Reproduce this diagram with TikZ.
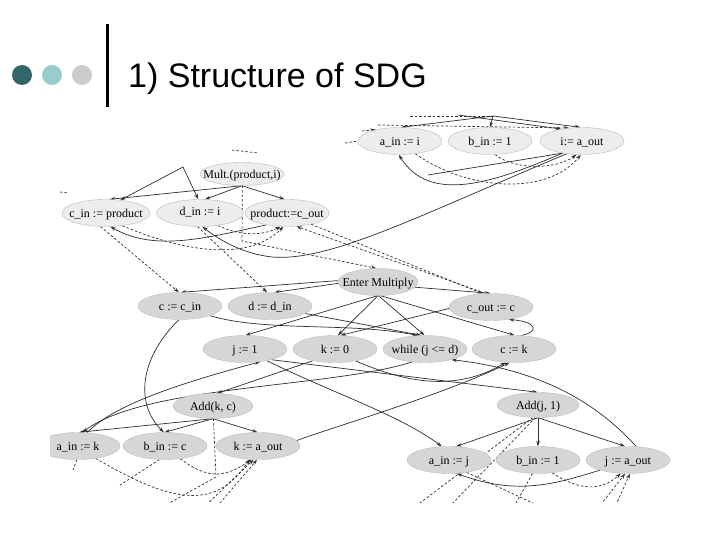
\documentclass[tikz,border=0pt]{standalone}
\usepackage{fontspec}
\setmainfont{Liberation Serif}
\newfontfamily\titlefont{Liberation Sans}
\usetikzlibrary{shapes.geometric,arrows.meta}
\pgfdeclarelayer{bglayer}
\pgfdeclarelayer{edgelayer}
\pgfsetlayers{bglayer,edgelayer,main}
\newcommand{\tx}[1]{\raisebox{0pt}[8.5pt][0pt]{\makebox[0pt]{#1}}}
\definecolor{dotA}{RGB}{51,102,104}
\definecolor{dotB}{RGB}{153,204,204}
\definecolor{dotC}{RGB}{204,204,204}
\begin{document}
\begin{tikzpicture}[x=1pt,y=-1pt,
  gl/.style={ellipse, draw=black!28, fill=black!7, minimum width=84pt, minimum height=27pt, inner sep=0pt, font=\fontsize{12}{14}\selectfont},
  gd/.style={gl, fill=black!16, draw=black!26},
  ce/.style={draw=black!82, line width=0.7pt, -{Stealth[length=5.5pt,width=3.6pt]}},
  de/.style={ce, dash pattern=on 2.5pt off 2pt},
  pl/.style={draw=black!82, line width=0.7pt},
  pd/.style={pl, dash pattern=on 2.5pt off 2pt}]
\begin{pgfonlayer}{bglayer}
\fill[white] (0,0) rectangle (720,540);
\end{pgfonlayer}
\useasboundingbox (0,0) rectangle (720,540);
% title
\fill[dotA] (22,75) circle (10);
\fill[dotB] (52,75) circle (10);
\fill[dotC] (82,75) circle (10);
\fill[black] (105.5,24) rectangle (109,107);
\node[anchor=base west, inner sep=0pt, font=\titlefont\fontsize{34}{38}\selectfont] (title) at (128,88) {1) Structure of SDG};
% nodes
\begin{scope}
\clip (50,112) rectangle (680,502);
\node[gl] (ain1) at (400,141) {\tx{a\_in := i}};
\node[gl] (bin1) at (490,141) {\tx{b\_in := 1}};
\node[gl] (iaout) at (582,141) {\tx{i:= a\_out}};
\node[gl, minimum height=23pt, minimum width=84pt] (mult) at (242,174) {\tx{Mult.(product,i)}};
\node[gl, minimum width=88pt] (cin) at (106,213) {\tx{c\_in := product}};
\node[gl, minimum width=87pt] (din) at (200,213) {\raisebox{3pt}{\tx{d\_in := i}}};
\node[gl] (prod) at (287,213) {\tx{product:=c\_out}};
\node[gd, minimum width=80pt] (em) at (378,282) {\tx{Enter Multiply}};
\node[gd] (cc) at (180,306) {\tx{c := c\_in}};
\node[gd] (dd) at (270,306) {\tx{d := d\_in}};
\node[gd] (cout) at (491,307) {\tx{c\_out := c}};
\node[gd] (j1) at (245,349) {\tx{j := 1}};
\node[gd] (k0) at (335,349) {\tx{k := 0}};
\node[gd] (wh) at (425,349) {\tx{while (j <= d)}};
\node[gd] (ck) at (514,349) {\tx{c := k}};
\node[gd, minimum width=80pt, minimum height=25pt] (addkc) at (213,406) {\tx{Add(k, c)}};
\node[gd] (aink) at (78,446) {\tx{a\_in := k}};
\node[gd] (binc) at (165,446) {\tx{b\_in := c}};
\node[gd] (kaout) at (258,446) {\tx{k := a\_out}};
\node[gd, minimum width=82pt, minimum height=25pt] (addj) at (538,405) {\tx{Add(j, 1)}};
\node[gd] (ainj) at (449,460) {\tx{a\_in := j}};
\node[gd] (binj) at (538,460) {\tx{b\_in := 1}};
\node[gd] (jaout) at (628,460) {\tx{j := a\_out}};
\end{scope}
% edges
\begin{pgfonlayer}{edgelayer}
\begin{scope}
\clip (50,112) rectangle (680,502);
\coordinate (s1) at (493,116);
\coordinate (s1b) at (458,115);
\coordinate (s1c) at (410,116);
\coordinate (s1d) at (378,125);
\coordinate (s1e) at (362,131);
\coordinate (s1f) at (345,143);
\coordinate (s2) at (183,167);
\coordinate (t1) at (428,175);
\coordinate (mc) at (242,241);
% top group
\draw[ce] (s1) -- (ain1.85);
\draw[ce] (s1) -- (bin1.90);
\draw[ce] (s1) -- (iaout.97);
\draw[ce] (s1b) -- (iaout.150);
\draw[pd] (s1c) -- (s1);
\draw[de] (s1d) -- (iaout.135);
\draw[de] (s1e) -- (ain1.155);
\draw[pd] (s1f) -- (ain1.west);
\draw[de] (ain1.-40) .. controls (470,192) and (548,195) .. (iaout.-95);
\draw[de] (bin1.-70) .. controls (515,170) and (555,170) .. (iaout.-112);
\draw[ce] (iaout.-148) .. controls (495,182) and (430,205) .. (ain1.-95);
\draw[pl] (t1) -- (iaout.-148);
\draw[ce] (iaout.-140) .. controls (420,215) and (330,262) .. (272,257) .. controls (245,254) and (222,242) .. (din.-80);
\draw[pd] (232,150) -- (258,153);
% mult group
\draw[ce] (s2) -- (cin.42);
\draw[ce] (s2) -- (din.97);
\draw[ce] (mult.south) -- (cin.75);
\draw[ce] (mult.south) -- (din.70);
\draw[ce] (mult.south) -- (prod.100);
\draw[pd] (60,192) -- (68,193);
\draw[ce] (prod.-150) .. controls (205,238) and (155,252) .. (cin.-72);
\draw[de] (cin.-38) .. controls (175,248) and (245,265) .. (prod.-105);
\draw[de] (din.-35) .. controls (240,236) and (262,236) .. (prod.-115);
\draw[de] (cin.-112) -- (cc.95);
\draw[de] (din.-100) -- (dd.102);
\draw[de] (mult.-88) -- (mc) -- (em.97);
\draw[de] (cout.112) -- (prod.-55);
\draw[de] (prod.-25) -- (cout.122);
% enter multiply
\draw[ce] (em.178) -- (cc.86);
\draw[ce] (em.182) -- (dd.72);
\draw[ce] (em.-8) -- (cout.92);
\draw[ce] (em.-92) -- (j1.88);
\draw[ce] (em.-90) -- (k0.78);
\draw[ce] (em.-88) -- (wh.92);
\draw[ce] (em.-80) -- (ck.88);
\draw[ce] (cout.182) -- (k0.68);
\draw[ce] (cc.-18) .. controls (265,332) and (350,322) .. (wh.118);
\draw[ce] (dd.-12) -- (wh.105);
\draw[ce] (ck.62) .. controls (539,332) and (538,322) .. (cout.-35);
% loop body
\draw[ce] (j1.-22) -- (addj.92);
\draw[ce] (j1.-28) .. controls (330,392) and (400,415) .. (ainj.118);
\draw[ce] (k0.-30) .. controls (400,380) and (452,394) .. (ck.-122);
\draw[ce] (k0.-152) -- (addkc.72);
\draw[ce] (kaout.8) .. controls (330,428) and (440,396) .. (ck.-108);
\draw[ce] (wh.-135) .. controls (330,388) and (145,385) .. (aink.72);
\draw[ce] (aink.55) .. controls (115,402) and (200,378) .. (j1.-40);
\draw[ce] (jaout.58) .. controls (610,418) and (560,372) .. (wh.-22);
\draw[ce] (cc.-95) .. controls (138,360) and (136,405) .. (binc.95);
\draw[ce] (addkc.-90) -- (aink.86);
\draw[ce] (addkc.-90) -- (binc.92);
\draw[ce] (addkc.-90) -- (kaout.92);
\draw[ce] (addj.-90) -- (ainj.62);
\draw[ce] (addj.-90) -- (binj.90);
\draw[ce] (addj.-90) -- (jaout.102);
\draw[ce] (jaout.-160) .. controls (560,482) and (520,497) .. (ainj.-60);
% dashed bottom left
\draw[de] (aink.-35) .. controls (170,502) and (215,512) .. (kaout.-122);
\draw[pd] (binc.-112) -- (120,485);
\draw[de] (binc.-40) .. controls (205,477) and (222,480) .. (kaout.-116);
\draw[pd] (addkc.-88) -- (216,477) -- (166,505);
\draw[de] (203,508) -- (kaout.-108);
\draw[de] (214,510) -- (kaout.-94);
\draw[pd] (aink.-95) -- (73,470);
% dashed bottom right
\draw[pd] (addj.-112) -- (416,506);
\draw[pd] (addj.-102) -- (450,506);
\draw[pd] (ainj.-35) -- (548,510);
\draw[pd] (binj.-112) -- (512,510);
\draw[de] (binj.-42) .. controls (578,490) and (600,492) .. (jaout.-118);
\draw[de] (595,512) -- (jaout.-102);
\draw[de] (612,514) -- (jaout.-82);
\end{scope}
\end{pgfonlayer}
\end{tikzpicture}
\end{document}
